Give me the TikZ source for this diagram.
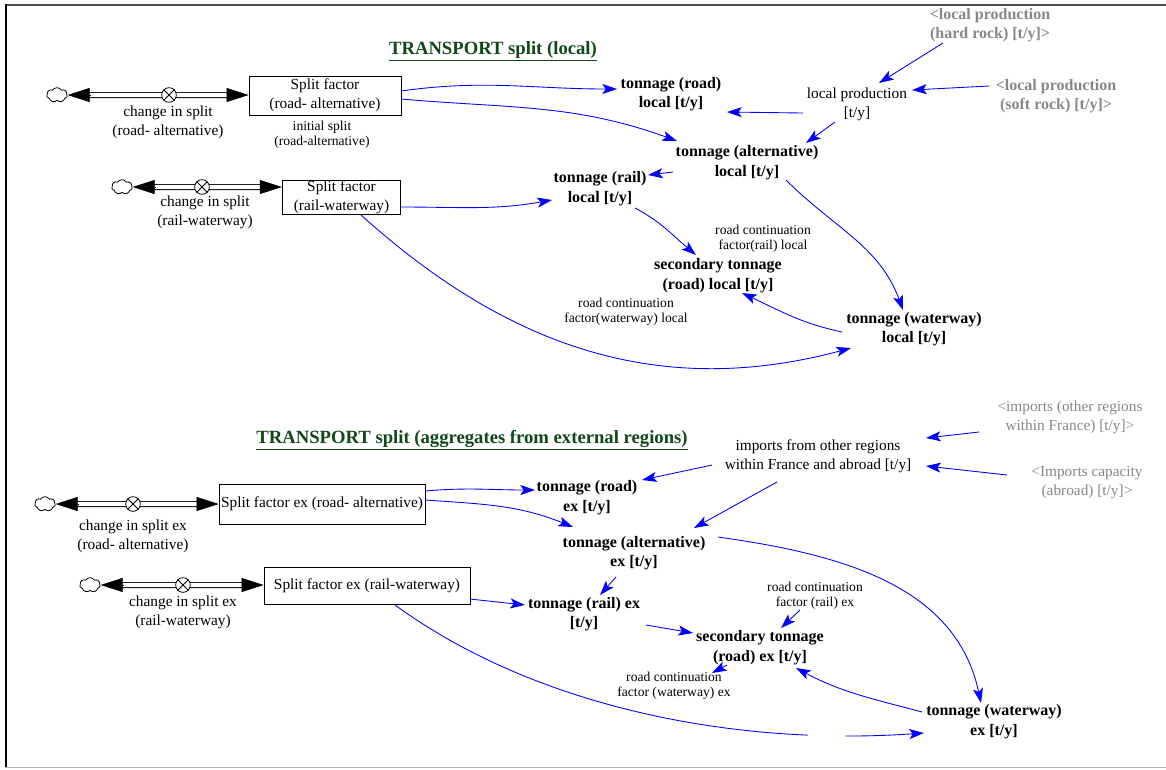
\documentclass[tikz,border=0pt]{standalone}
\usepackage{fontspec}
\setmainfont{Liberation Serif}
\usetikzlibrary{arrows.meta,shapes.symbols,calc}
\definecolor{titlegreen}{RGB}{16,72,24}
\definecolor{linkblue}{RGB}{0,0,255}
\definecolor{shadowgray}{RGB}{135,135,135}
\begin{document}
\begin{tikzpicture}[x=0.75pt,y=0.75pt,
 txt/.style={align=center, inner sep=0pt, font=\fontsize{11.5}{14.5}\selectfont},
 boldtxt/.style={align=center, inner sep=0pt, font=\fontsize{12}{14.5}\selectfont\bfseries},
 smalltxt/.style={align=center, inner sep=0pt, font=\fontsize{10.2}{11}\selectfont},
 graytxt/.style={text=shadowgray},
 titletxt/.style={inner sep=0pt, text=titlegreen, font=\fontsize{14}{16}\selectfont\bfseries},
 stockbox/.style={draw, line width=0.6pt, align=center, inner sep=0pt, font=\fontsize{11.5}{14.5}\selectfont},
 link/.style={linkblue, line width=0.65pt, -{Stealth[length=11pt,width=7.5pt,inset=2.5pt]}},
 pipe/.style={draw=black, line width=0.6pt, double=white, double distance=3.3pt, shorten <=15pt, shorten >=15pt},
 ptip/.style={black, line width=0.4pt, -{Triangle[length=16.5pt,width=10.5pt]}},
 valve/.style={circle, draw, fill=white, line width=0.6pt, minimum size=11pt, inner sep=0pt},
 cloudy/.style={cloud, draw, cloud puffs=7, cloud puff arc=120, aspect=1.5, minimum width=15.5pt, minimum height=11pt, inner sep=0pt, line width=0.6pt, fill=white},
]
\useasboundingbox (0,0) rectangle (1166,-769);
% frame
\draw[line width=1.5pt, black!70] (5,-4.5) -- (1166,-4.5);
\draw[line width=1.5pt, black] (5.5,-4) -- (5.5,-768);
\draw[line width=1.2pt, black!30] (5,-767.5) -- (1166,-767.5);

% ---------- top section ----------
\node[titletxt] (t1) at (493,-51) {\underline{TRANSPORT split (local)}};

\node[stockbox, minimum width=114pt, minimum height=29.25pt] (sf1) at (325,-95.5) {Split factor\\(road- alternative)};
\node[stockbox, minimum width=88.9pt, minimum height=24.75pt] (sf2) at (341.5,-197.5) {Split factor\\(rail-waterway)};
\node[cloudy] (c1) at (57,-95) {};
\node[cloudy] (c2) at (122,-187) {};
\node[txt] (fl1) at (168,-122.5) {change in split\\(road- alternative)};
\node[txt] (fl2) at (205,-212.5) {change in split\\(rail-waterway)};
\node[smalltxt] (ini1) at (322,-134.5) {initial split\\(road-alternative)};

\draw[pipe] (c1.east) -- (sf1.west |- c1);
\draw[ptip] ($(c1.east)+(22,0)$) -- (c1.east);
\draw[ptip] ($(sf1.west |- c1)+(-21,0)$) -- (sf1.west |- c1);
\node[valve] (v1) at (169,-95) {};
\draw[line width=0.6pt] (v1.45) -- (v1.225) (v1.135) -- (v1.-45);

\draw[pipe] (c2.east) -- (sf2.west |- c2);
\draw[ptip] ($(c2.east)+(22,0)$) -- (c2.east);
\draw[ptip] ($(sf2.west |- c2)+(-21,0)$) -- (sf2.west |- c2);
\node[valve] (v2) at (202,-187) {};
\draw[line width=0.6pt] (v2.45) -- (v2.225) (v2.135) -- (v2.-45);

\node[boldtxt] (trl) at (671,-94.5) {tonnage (road)\\local [t/y]};
\node[txt] (lp) at (857,-104.5) {local production\\{}[t/y]};
\node[boldtxt, graytxt] (hr) at (990,-25) {<local production\\(hard rock) [t/y]>};
\node[boldtxt, graytxt] (sr) at (1056,-96) {<local production\\(soft rock) [t/y]>};
\node[boldtxt] (tal) at (747,-162.5) {tonnage (alternative)\\local [t/y]};
\node[boldtxt] (trail) at (600,-188.5) {tonnage (rail)\\local [t/y]};
\node[smalltxt] (rcrl) at (763,-239) {road continuation\\factor(rail) local};
\node[boldtxt] (stl) at (718,-275.5) {secondary tonnage\\(road) local [t/y]};
\node[smalltxt] (rcwl) at (626,-311.5) {road continuation\\factor(waterway) local};
\node[boldtxt] (twl) at (914,-329) {tonnage (waterway)\\local [t/y]};

\draw[link] ($(sf1)+(76,4.5)$) to[out=8,in=180] ($(trl)+(-54,5.5)$);
\draw[link] ($(sf1)+(76,-3.5)$) to[out=-5,in=160] ($(tal)+(-70,21.5)$);
\draw[link] ($(lp)+(-54,-8.5)$) -- ($(trl)+(56,-17.5)$);
\draw[link] ($(hr)+(-47,-18)$) -- ($(lp)+(22,21.5)$);
\draw[link] ($(sr)+(-67,10)$) -- ($(lp)+(55,14.5)$);
\draw[link] ($(lp)+(-22,-17.5)$) -- ($(tal)+(59,19.5)$);
\draw[link] ($(tal)+(-74,-9.5)$) -- ($(trail)+(48,13.5)$);
\draw[link] ($(sf2)+(59.5,-9.5)$) to[out=0,in=190] ($(trail)+(-48,-11.5)$);
\draw[link] ($(trail)+(35,-19.5)$) to[out=-28,in=140] ($(stl)+(-22,20.5)$);
\draw[link] ($(tal)+(39,-17.5)$) to[out=-45,in=110] ($(twl)+(-11,19)$);
\draw[link] ($(twl)+(-72,-3)$) to[out=168,in=-25] ($(stl)+(24,-17.5)$);
\draw[link] ($(sf2)+(19.5,-17.5)$) to[out=-42,in=195] ($(twl)+(-63,-19)$);

% ---------- bottom section ----------
\node[titletxt] (t2) at (472,-440) {\underline{TRANSPORT split (aggregates from external regions)}};

\node[stockbox, minimum width=154.5pt, minimum height=30pt] (sf3) at (322,-504) {Split factor ex (road- alternative)};
\node[stockbox, minimum width=154.5pt, minimum height=27.75pt] (sf4) at (367,-585.5) {Split factor ex (rail-waterway)};
\node[cloudy] (c3) at (45,-504) {};
\node[cloudy] (c4) at (90,-585) {};
\node[txt] (fl3) at (133,-536.5) {change in split ex\\(road- alternative)};
\node[txt] (fl4) at (183,-612.5) {change in split ex\\(rail-waterway)};

\draw[pipe] (c3.east) -- (sf3.west |- c3);
\draw[ptip] ($(c3.east)+(22,0)$) -- (c3.east);
\draw[ptip] ($(sf3.west |- c3)+(-21,0)$) -- (sf3.west |- c3);
\node[valve] (v3) at (133,-504) {};
\draw[line width=0.6pt] (v3.45) -- (v3.225) (v3.135) -- (v3.-45);

\draw[pipe] (c4.east) -- (sf4.west |- c4);
\draw[ptip] ($(c4.east)+(22,0)$) -- (c4.east);
\draw[ptip] ($(sf4.west |- c4)+(-21,0)$) -- (sf4.west |- c4);
\node[valve] (v4) at (183,-585) {};
\draw[line width=0.6pt] (v4.45) -- (v4.225) (v4.135) -- (v4.-45);

\node[txt] (imp) at (818,-456) {imports from other regions\\within France and abroad [t/y]};
\node[txt, graytxt] (oreg) at (1070,-417.5) {<imports (other regions\\within France) [t/y]>};
\node[txt, graytxt] (cap) at (1087,-482.5) {<Imports capacity\\(abroad) [t/y]>};
\node[boldtxt] (tre) at (587,-497.5) {tonnage (road)\\ex [t/y]};
\node[boldtxt] (tae) at (634,-553) {tonnage (alternative)\\ex [t/y]};
\node[boldtxt] (tre2) at (584,-614) {tonnage (rail) ex\\{}[t/y]};
\node[smalltxt] (rcre) at (815,-595.5) {road continuation\\factor (rail) ex};
\node[boldtxt] (ste) at (760,-647.5) {secondary tonnage\\(road) ex [t/y]};
\node[smalltxt] (rcwe) at (674,-686) {road continuation\\factor (waterway) ex};
\node[boldtxt] (twe) at (994,-721.5) {tonnage (waterway)\\ex [t/y]};

\draw[link] ($(sf3)+(103,13)$) to[out=5,in=180] ($(tre)+(-52,7.5)$);
\draw[link] ($(sf3)+(103,4)$) to[out=-4,in=158] ($(tae)+(-61,26)$);
\draw[link] ($(imp)+(-106,-9)$) -- ($(tre)+(55,17.5)$);
\draw[link] ($(imp)+(-41,-26)$) -- ($(tae)+(60,25)$);
\draw[link] ($(oreg)+(-91,-14.5)$) -- ($(imp)+(108,18)$);
\draw[link] ($(cap)+(-80,7.5)$) -- ($(imp)+(108,-10)$);
\draw[link] ($(tae)+(84,16)$) to[out=-8,in=102] ($(twe)+(-13,18.5)$);
\draw[link] ($(tae)+(-18,-24)$) -- ($(tre2)+(16,19)$);
\draw[link] ($(sf4)+(103,-13.5)$) -- ($(tre2)+(-59,9)$);
\draw[link] ($(tre2)+(62,-11)$) -- ($(ste)+(-67,14.5)$);
\draw[link] ($(rcre)+(-15,-14.5)$) -- ($(ste)+(21,19.5)$);
\draw[link] ($(ste)+(-33,-17.5)$) -- ($(rcwe)+(38,13)$);
\draw[link] ($(twe)+(-72,9.5)$) to[out=165,in=-28] ($(ste)+(36,-20.5)$);
\draw[link, dash pattern=on 329pt off 28.5pt on 400pt] ($(sf4)+(28,-19.5)$) to[out=-36,in=184,looseness=0.85] ($(twe)+(-70,-11.5)$);
\end{tikzpicture}
\end{document}
